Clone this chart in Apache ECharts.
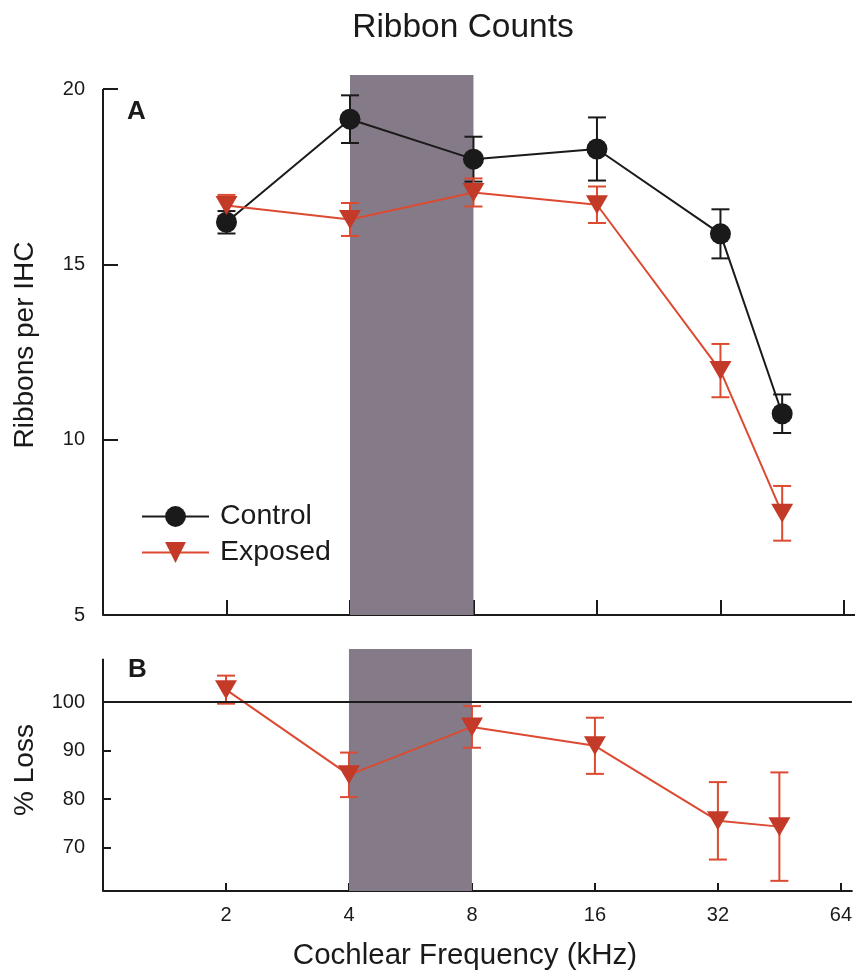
<!DOCTYPE html>
<html>
<head>
<meta charset="utf-8">
<script src="https://cdn.jsdelivr.net/npm/echarts@6/dist/echarts.min.js"></script>
<style>
  html, body { margin: 0; padding: 0; background: #ffffff; }
  #chart { width: 855px; height: 980px; }
</style>
</head>
<body>
<div id="chart"></div>
<script>
// Cochlear frequencies (kHz) where ribbons were counted
const frequencies = [2, 4, 8, 16, 32, 45.25];

// Panel A: synaptic ribbons per inner hair cell (mean and SEM)
const controlMean = [16.2, 19.14, 18.0, 18.29, 15.87, 10.74];
const controlErr  = [0.32, 0.68, 0.64, 0.9, 0.7, 0.55];
const exposedMean = [16.68, 16.28, 17.05, 16.7, 11.97, 7.9];
const exposedErr  = [0.3, 0.47, 0.4, 0.52, 0.76, 0.78];

// Panel B: exposed ribbon counts as a percentage of control (mean and SEM)
const lossMean = [102.6, 85.0, 94.9, 91.0, 75.5, 74.3];
const lossErr  = [2.9, 4.6, 4.3, 5.8, 8.0, 11.2];

// Tick values
const freqTicks   = [2, 4, 8, 16, 32, 64];
const ribbonTicks = [5, 10, 15, 20];
const lossTicks   = [70, 80, 90, 100];

// Octave band of the noise exposure (kHz)
const exposureBand = [4, 8];

const FONT = "'Liberation Sans', Arial, Helvetica, sans-serif";
const INK = '#1a1a1a';
const RED_MARK = '#c43a28';
const RED_LINE = '#dc4a31';
const BAND = '#857b88';

const pairs = (ys) => frequencies.map((f, i) => [f, ys[i]]);
const ranges = (ys, es) => frequencies.map((f, i) => [f, ys[i] - es[i], ys[i] + es[i]]);

// Vertical error bar with caps, placed through the axis scales
function errorBars(color) {
  return function (params, api) {
    const x = api.value(0);
    const lo = api.coord([x, api.value(1)]);
    const hi = api.coord([x, api.value(2)]);
    const half = 9;
    const style = { stroke: color, lineWidth: 2, fill: null };
    return {
      type: 'group',
      children: [
        { type: 'line', shape: { x1: lo[0], y1: lo[1], x2: hi[0], y2: hi[1] }, style },
        { type: 'line', shape: { x1: lo[0] - half, y1: lo[1], x2: lo[0] + half, y2: lo[1] }, style },
        { type: 'line', shape: { x1: hi[0] - half, y1: hi[1], x2: hi[0] + half, y2: hi[1] }, style }
      ]
    };
  };
}

function freqAxis(gridIndex, showLabels, tickLen) {
  return {
    type: 'log', logBase: 2, gridIndex,
    min: 1, max: 68.1,
    axisLine: { show: true, onZero: false, lineStyle: { color: INK, width: 2 } },
    axisTick: { show: true, inside: true, length: tickLen, customValues: freqTicks,
                lineStyle: { color: INK, width: 2 } },
    axisLabel: { show: showLabels, customValues: freqTicks, margin: 14,
                 fontSize: 20, fontFamily: FONT, color: INK },
    splitLine: { show: false }
  };
}

function valueAxis(gridIndex, min, max, ticks, tickLen, name, nameGap) {
  return {
    type: 'value', gridIndex, min, max,
    name, nameLocation: 'middle', nameGap, nameRotate: 90,
    nameTextStyle: { fontSize: 28, fontFamily: FONT, color: INK },
    axisLine: { show: false },
    axisTick: { show: true, inside: true, length: tickLen, customValues: ticks,
                lineStyle: { color: INK, width: 2 } },
    axisLabel: { customValues: ticks, margin: 18, fontSize: 20, fontFamily: FONT, color: INK },
    splitLine: { show: false }
  };
}

const option = {
  animation: false,
  backgroundColor: '#ffffff',
  textStyle: { fontFamily: FONT },
  title: [
    { text: 'Ribbon Counts', left: 458, top: 6, textAlign: 'center',
      textStyle: { fontSize: 33.5, fontWeight: 'normal', fontFamily: FONT, color: INK } },
    { text: 'A', left: 122, top: 94,
      textStyle: { fontSize: 26, fontWeight: 'bold', fontFamily: FONT, color: INK } },
    { text: 'B', left: 123, top: 652,
      textStyle: { fontSize: 26, fontWeight: 'bold', fontFamily: FONT, color: INK } },
    { text: 'Cochlear Frequency (kHz)', left: 460, top: 936, textAlign: 'center',
      textStyle: { fontSize: 29.5, fontWeight: 'normal', fontFamily: FONT, color: INK } }
  ],
  legend: {
    data: ['Control', 'Exposed'],
    orient: 'vertical', left: 136, top: 497,
    itemWidth: 67, itemHeight: 26, itemGap: 7,
    selectedMode: false,
    textStyle: { fontSize: 28.5, fontFamily: FONT, color: INK, padding: [0, 0, 0, 6] }
  },
  grid: [
    { left: 103, right: 0, top: 75, height: 540 },
    { left: 103, right: 0, top: 649, height: 242 }
  ],
  xAxis: [ freqAxis(0, false, 15), freqAxis(1, true, 8) ],
  yAxis: [
    valueAxis(0, 5, 20.4, ribbonTicks, 15, 'Ribbons per IHC', 64),
    valueAxis(1, 61, 111, lossTicks, 8, '% Loss', 64)
  ],
  series: [
    // Exposure band and axis spine, panel A
    {
      type: 'line', xAxisIndex: 0, yAxisIndex: 0, data: [], z: -1, clip: false, silent: true,
      markArea: { silent: true, itemStyle: { color: BAND },
                  data: [[{ xAxis: exposureBand[0] }, { xAxis: exposureBand[1] }]] },
      markLine: { silent: true, symbol: ['none', 'none'], label: { show: false },
                  lineStyle: { color: INK, width: 2, type: 'solid' },
                  data: [[{ coord: [1, ribbonTicks[0]] }, { coord: [1, ribbonTicks[ribbonTicks.length - 1]] }]] }
    },
    // Exposure band, spine and 100 % reference line, panel B
    {
      type: 'line', xAxisIndex: 1, yAxisIndex: 1, data: [], z: -1, clip: false, silent: true,
      markArea: { silent: true, itemStyle: { color: BAND },
                  data: [[{ xAxis: exposureBand[0] }, { xAxis: exposureBand[1] }]] },
      markLine: { silent: true, symbol: ['none', 'none'], label: { show: false },
                  lineStyle: { color: INK, width: 2, type: 'solid' },
                  data: [
                    [{ coord: [1, 61] }, { coord: [1, 109] }],
                    { yAxis: 100 }
                  ] }
    },
    // Error bars
    { type: 'custom', xAxisIndex: 0, yAxisIndex: 0, z: 2, silent: true,
      renderItem: errorBars(INK), encode: { x: 0, y: [1, 2] }, data: ranges(controlMean, controlErr) },
    { type: 'custom', xAxisIndex: 0, yAxisIndex: 0, z: 2, silent: true,
      renderItem: errorBars(RED_LINE), encode: { x: 0, y: [1, 2] }, data: ranges(exposedMean, exposedErr) },
    { type: 'custom', xAxisIndex: 1, yAxisIndex: 1, z: 2, silent: true,
      renderItem: errorBars(RED_LINE), encode: { x: 0, y: [1, 2] }, data: ranges(lossMean, lossErr) },
    // Means
    { name: 'Control', type: 'line', xAxisIndex: 0, yAxisIndex: 0, z: 3,
      data: pairs(controlMean), symbol: 'circle', symbolSize: 21,
      itemStyle: { color: INK }, lineStyle: { color: INK, width: 2 } },
    { name: 'Exposed', type: 'line', xAxisIndex: 0, yAxisIndex: 0, z: 4,
      data: pairs(exposedMean), symbol: 'triangle', symbolRotate: 180, symbolSize: [22, 19],
      itemStyle: { color: RED_MARK }, lineStyle: { color: RED_LINE, width: 2 } },
    { name: 'Percent of control', type: 'line', xAxisIndex: 1, yAxisIndex: 1, z: 4,
      data: pairs(lossMean), symbol: 'triangle', symbolRotate: 180, symbolSize: [22, 19],
      itemStyle: { color: RED_MARK }, lineStyle: { color: RED_LINE, width: 2 } }
  ]
};

const chart = echarts.init(document.getElementById('chart'), null, { renderer: 'canvas' });
chart.setOption(option);
</script>
</body>
</html>
